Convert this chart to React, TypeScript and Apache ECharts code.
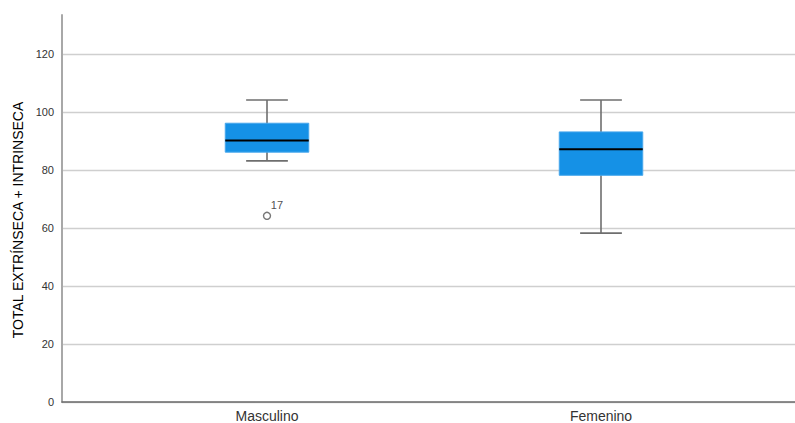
import React, { useEffect, useRef } from "react";
import * as echarts from "echarts";

const categories = ["Masculino", "Femenino"];
const whiskerLow = [83, 58];
const quartile1 = [86, 78];
const medians = [90, 87];
const quartile3 = [96, 93];
const whiskerHigh = [104, 104];
const outlierCategories = ["Masculino"];
const outlierValues = [64];
const outlierLabels = ["17"];
const yAxisTitle = "TOTAL EXTRÍNSECA + INTRINSECA";
const yMin = 0;
const yMax = 133.4;
const yInterval = 20;

const FONT = "'Liberation Sans', Arial, sans-serif";

export default function App() {
  const ref = useRef<HTMLDivElement>(null);
  useEffect(() => {
    if (!ref.current) return;
    const chart = echarts.init(ref.current, undefined, { renderer: "svg" });
    const boxData = categories.map((c, i) => [
      i,
      whiskerLow[i],
      quartile1[i],
      medians[i],
      quartile3[i],
      whiskerHigh[i],
    ]);
    const outlierData = outlierCategories.map((c, i) => ({
      value: [c, outlierValues[i]],
      label: { formatter: outlierLabels[i] },
    }));
    const option: any = {
      animation: false,
      backgroundColor: "#ffffff",
      textStyle: { fontFamily: FONT },
      graphic: [
        {
          type: "text",
          x: 18,
          y: 220,
          rotation: Math.PI / 2,
          style: {
            text: yAxisTitle,
            fontSize: 14,
            fontFamily: FONT,
            fill: "#000",
            align: "center",
            verticalAlign: "middle",
          },
        },
      ],
      grid: [
        { left: 62, right: 0, top: 15, bottom: 21 },
        { left: 100, right: 27, top: 15, bottom: 21 },
      ],
      xAxis: [
        {
          gridIndex: 0,
          type: "value",
          min: 0,
          max: 1,
          axisLine: { show: true, lineStyle: { color: "#6b6b6b", width: 1.5 } },
          axisTick: { show: false },
          axisLabel: { show: false },
          splitLine: { show: false },
        },
        {
          gridIndex: 1,
          type: "category",
          data: categories,
          axisLine: { show: false },
          axisTick: { show: false },
          axisLabel: { fontSize: 14, color: "#333", margin: 8, fontFamily: FONT },
          splitLine: { show: false },
        },
      ],
      yAxis: [
        {
          gridIndex: 0,
          type: "value",
          min: yMin,
          max: yMax,
          interval: yInterval,
          axisLine: { show: true, lineStyle: { color: "#a8a8a8", width: 2 } },
          axisTick: { show: false },
          axisLabel: { fontSize: 11, color: "#333", margin: 8, showMaxLabel: false, fontFamily: FONT },
          splitLine: { show: true, showMaxLine: false, lineStyle: { color: "#cfcfcf", width: 1.3 } },
        },
        {
          gridIndex: 1,
          type: "value",
          min: yMin,
          max: yMax,
          interval: yInterval,
          show: false,
          splitLine: { show: false },
        },
      ],
      series: [
        {
          type: "custom",
          xAxisIndex: 1,
          yAxisIndex: 1,
          data: boxData,
          encode: { x: 0, y: [1, 2, 3, 4, 5] },
          renderItem: (params: any, api: any) => {
            const x = api.value(0);
            const low = api.coord([x, api.value(1)]);
            const q1 = api.coord([x, api.value(2)]);
            const med = api.coord([x, api.value(3)]);
            const q3 = api.coord([x, api.value(4)]);
            const high = api.coord([x, api.value(5)]);
            const band = api.size([1, 0])[0];
            const boxW = band * 0.25;
            const capW = boxW * 0.5;
            const cx = low[0];
            const whiskerStyle = { stroke: "#6e6e6e", lineWidth: 1.6 };
            return {
              type: "group",
              children: [
                { type: "line", shape: { x1: cx, y1: high[1], x2: cx, y2: low[1] }, style: whiskerStyle },
                { type: "line", shape: { x1: cx - capW / 2, y1: high[1], x2: cx + capW / 2, y2: high[1] }, style: whiskerStyle },
                { type: "line", shape: { x1: cx - capW / 2, y1: low[1], x2: cx + capW / 2, y2: low[1] }, style: whiskerStyle },
                {
                  type: "rect",
                  shape: { x: cx - boxW / 2, y: q3[1], width: boxW, height: q1[1] - q3[1] },
                  style: { fill: "#1591e6", stroke: "#47a7ec", lineWidth: 1 },
                },
                {
                  type: "line",
                  shape: { x1: cx - boxW / 2, y1: med[1], x2: cx + boxW / 2, y2: med[1] },
                  style: { stroke: "#000000", lineWidth: 2 },
                },
              ],
            };
          },
        },
        {
          type: "scatter",
          xAxisIndex: 1,
          yAxisIndex: 1,
          data: outlierData,
          symbol: "circle",
          symbolSize: 7,
          itemStyle: { color: "#ffffff", borderColor: "#555555", borderWidth: 1.4 },
          label: {
            show: true,
            position: [8, -12],
            fontSize: 11,
            color: "#222",
            fontFamily: FONT,
          },
        },
      ],
    };
    chart.setOption(option);
    return () => chart.dispose();
  }, []);
  return <div ref={ref} style={{ width: 795, height: 423, position: "absolute", left: 0, top: 0 }} />;
}
